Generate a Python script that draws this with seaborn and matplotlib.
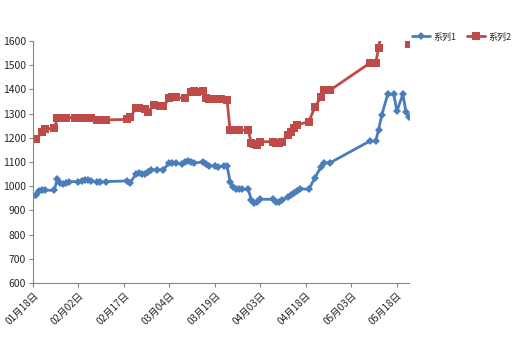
import matplotlib
matplotlib.use("Agg")
import matplotlib.pyplot as plt
import seaborn as sns
import pandas as pd

# ---- data ----
blue_dates = ["01-18","01-19","01-20","01-21","01-22","01-25","01-26","01-27","01-28","01-29","01-30",
              "02-02","02-03","02-04","02-05","02-06","02-08","02-09","02-11","02-18","02-19","02-21",
              "02-22","02-23","02-24","02-25","02-26","02-28","03-02","03-04","03-05","03-06","03-08",
              "03-09","03-10","03-11","03-12","03-15","03-16","03-17","03-19","03-20","03-22","03-23",
              "03-24","03-25","03-26","03-27","03-28","03-30","03-31","04-01","04-02","04-03","04-07",
              "04-08","04-09","04-10","04-12","04-13","04-14","04-15","04-16","04-19","04-21","04-23",
              "04-24","04-26","05-09","05-11","05-12","05-13","05-15","05-17","05-18","05-20","05-21","05-22"]
blue_values = [960,964,980,984,984,983,1030,1015,1008,1015,1019,
               1019,1022,1025,1026,1022,1017,1017,1019,1022,1015,1050,
               1054,1052,1052,1057,1068,1068,1068,1098,1098,1095,1092,
               1101,1105,1101,1095,1101,1092,1085,1084,1081,1084,1084,
               1019,995,987,987,987,987,943,932,936,946,946,
               936,936,943,954,963,970,981,990,987,1036,1080,
               1097,1097,1186,1186,1234,1293,1380,1380,1310,1380,1307,1287]

red_dates = ["01-18","01-19","01-21","01-22","01-25","01-26","01-27","01-29","02-01","02-03","02-05",
             "02-06","02-08","02-09","02-11","02-18","02-19","02-21","02-22","02-24","02-25","02-27",
             "03-01","03-02","03-04","03-05","03-06","03-09","03-11","03-12","03-13","03-15","03-16",
             "03-17","03-19","03-21","03-23","03-24","03-25","03-26","03-27","03-30","03-31","04-01",
             "04-02","04-03","04-07","04-08","04-09","04-10","04-12","04-13","04-14","04-15","04-19",
             "04-21","04-23","04-24","04-26","05-09","05-11","05-12","05-13","05-15","05-17","05-18",
             "05-20","05-21","05-22"]
red_values = [1195,1195,1223,1236,1239,1281,1283,1283,1283,1281,1281,
              1281,1274,1274,1274,1276,1285,1322,1322,1318,1308,1336,
              1331,1331,1363,1367,1367,1363,1390,1395,1390,1395,1363,
              1359,1359,1359,1356,1232,1232,1232,1232,1232,1177,1173,
              1170,1184,1184,1177,1180,1184,1212,1225,1239,1253,1267,
              1328,1368,1397,1397,1508,1508,1572,1640,1700,1720,1700,
              1720,1700,1586]

tick_dates = ["01-18","02-02","02-17","03-04","03-19","04-03","04-18","05-03","05-18"]
tick_labels = ["01月18日","02月02日","02月17日","03月04日","03月19日","04月03日","04月18日","05月03日","05月18日"]
y_ticks = [600,700,800,900,1000,1100,1200,1300,1400,1500,1600]
series_names = ["系列1", "系列2"]

YEAR = "2021-"
def to_dt(lst):
    return pd.to_datetime([YEAR + d for d in lst])

sns.set_style("white")
plt.rcParams["font.family"] = ["Noto Sans CJK SC", "DejaVu Sans"]

fig = plt.figure(figsize=(5.19, 3.49), dpi=100)
ax = fig.add_axes([0.0636, 0.189, 0.788 - 0.0636, 0.8825 - 0.189])

blue_c = "#4A7EBB"
red_c = "#BE4B48"

sns.lineplot(x=to_dt(blue_dates), y=blue_values, ax=ax, color=blue_c, linewidth=2.0,
             marker="D", markersize=4.5, markeredgewidth=0, label=series_names[0])
sns.lineplot(x=to_dt(red_dates), y=red_values, ax=ax, color=red_c, linewidth=2.0,
             marker="s", markersize=5.5, markeredgewidth=0, label=series_names[1])

ax.set_ylim(600, 1600)
ax.set_xlim(pd.Timestamp(YEAR + "01-18"), pd.Timestamp(YEAR + "05-22"))
ax.set_yticks(y_ticks)
ax.set_xticks(to_dt(tick_dates))
ax.set_xticklabels(tick_labels, rotation=45, ha="right", rotation_mode="anchor", fontsize=7)
ax.tick_params(axis="y", labelsize=7.5, length=3, width=0.8, color="#868686", left=True, pad=2)
ax.tick_params(axis="x", length=3, width=0.8, color="#868686", bottom=True, pad=2)
for lab in ax.get_yticklabels() + ax.get_xticklabels():
    lab.set_color("#262626")

for s in ["top", "right"]:
    ax.spines[s].set_visible(False)
for s in ["left", "bottom"]:
    ax.spines[s].set_color("#868686")
    ax.spines[s].set_linewidth(0.8)
ax.set_xlabel("")
ax.set_ylabel("")
ax.grid(False)

leg = ax.legend(loc="center left", bbox_to_anchor=(0.794, 0.894), bbox_transform=fig.transFigure,
                ncol=2, frameon=False, fontsize=6.5, handlelength=2.0, columnspacing=1.2,
                handletextpad=0.35, borderaxespad=0, borderpad=0)
for t in leg.get_texts():
    t.set_color("#262626")

fig.savefig("out.png", dpi=100)
